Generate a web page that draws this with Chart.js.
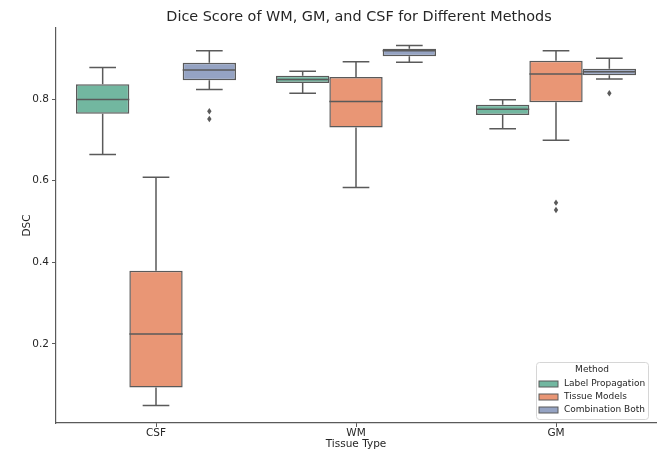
<!DOCTYPE html>
<html>
<head>
<meta charset="utf-8">
<script src="https://cdn.jsdelivr.net/npm/chart.js@4.4.1/dist/chart.umd.min.js"></script>
<style>
  html, body { margin: 0; padding: 0; background: #fff; }
  #wrap { width: 670px; height: 452px; }
</style>
</head>
<body>
<div id="wrap"><canvas id="myChart"></canvas></div>
<script>
const tissues = ["CSF", "WM", "GM"];
const methods = ["Label Propagation", "Tissue Models", "Combination Both"];
const yTicks = [0.2, 0.4, 0.6, 0.8];

// per method, per tissue (CSF, WM, GM)
const lpMin = [0.664, 0.814, 0.727];
const lpQ1 = [0.764, 0.839, 0.761];
const lpMed = [0.799, 0.848, 0.775];
const lpQ3 = [0.836, 0.857, 0.786];
const lpMax = [0.877, 0.868, 0.798];
const lpOut = [[], [], []];

const tmMin = [0.049, 0.583, 0.699];
const tmQ1 = [0.093, 0.730, 0.792];
const tmMed = [0.224, 0.794, 0.861];
const tmQ3 = [0.379, 0.854, 0.894];
const tmMax = [0.608, 0.891, 0.918];
const tmOut = [[], [], [0.546, 0.528]];

const cbMin = [0.823, 0.890, 0.849];
const cbQ1 = [0.846, 0.905, 0.858];
const cbMed = [0.871, 0.918, 0.867];
const cbQ3 = [0.889, 0.923, 0.874];
const cbMax = [0.918, 0.931, 0.900];
const cbOut = [[0.770, 0.751], [], [0.814]];

const colors = ["rgb(114,183,160)", "rgb(233,150,117)", "rgb(149,163,195)"];
const lineColor = "#5a5a5a";
const textColor = "#262626";
const font = "DejaVu Sans";

const stats = [
    { min: lpMin, q1: lpQ1, med: lpMed, q3: lpQ3, max: lpMax, out: lpOut },
    { min: tmMin, q1: tmQ1, med: tmMed, q3: tmQ3, max: tmMax, out: tmOut },
    { min: cbMin, q1: cbQ1, med: cbMed, q3: cbQ3, max: cbMax, out: cbOut }
];

const boxPlugin = {
    id: "boxParts",
    afterDatasetsDraw(chart) {
        const ctx = chart.ctx;
        const y = chart.scales.y;
        ctx.save();
        ctx.strokeStyle = lineColor;
        ctx.fillStyle = lineColor;
        ctx.lineWidth = 1.5;
        chart.data.datasets.forEach((ds, di) => {
            const s = stats[di];
            chart.getDatasetMeta(di).data.forEach((bar, i) => {
                const cx = bar.x;
                const half = bar.width / 2;
                const cap = half / 2;
                const pMin = y.getPixelForValue(s.min[i]);
                const pMax = y.getPixelForValue(s.max[i]);
                const pQ1 = y.getPixelForValue(s.q1[i]);
                const pQ3 = y.getPixelForValue(s.q3[i]);
                const pMed = y.getPixelForValue(s.med[i]);
                ctx.beginPath();
                ctx.moveTo(cx, pQ3); ctx.lineTo(cx, pMax);
                ctx.moveTo(cx - cap, pMax); ctx.lineTo(cx + cap, pMax);
                ctx.moveTo(cx, pQ1); ctx.lineTo(cx, pMin);
                ctx.moveTo(cx - cap, pMin); ctx.lineTo(cx + cap, pMin);
                ctx.moveTo(cx - half, pMed); ctx.lineTo(cx + half, pMed);
                ctx.stroke();
                s.out[i].forEach(v => {
                    const py = y.getPixelForValue(v);
                    ctx.beginPath();
                    ctx.moveTo(cx, py - 3.2);
                    ctx.lineTo(cx + 2.2, py);
                    ctx.lineTo(cx, py + 3.2);
                    ctx.lineTo(cx - 2.2, py);
                    ctx.closePath();
                    ctx.fill();
                });
            });
        });
        ctx.restore();
    },
    afterDraw(chart) {
        const ctx = chart.ctx;
        const area = chart.chartArea;
        ctx.save();
        // title
        ctx.fillStyle = textColor;
        ctx.font = "14.4px '" + font + "'";
        ctx.textAlign = "center";
        ctx.textBaseline = "middle";
        ctx.fillText("Dice Score of WM, GM, and CSF for Different Methods", (area.left + area.right) / 2 + 3, 17);

        // legend
        const lx = 536, ly = 362, lw = 112, lh = 57;
        ctx.fillStyle = "rgba(255,255,255,0.8)";
        ctx.strokeStyle = "#d6d6d6";
        ctx.lineWidth = 1;
        ctx.beginPath();
        ctx.roundRect(lx + 0.5, ly + 0.5, lw, lh, 3);
        ctx.fill();
        ctx.stroke();
        ctx.fillStyle = textColor;
        ctx.font = "9px '" + font + "'";
        ctx.fillText("Method", lx + lw / 2, ly + 8);
        ctx.textAlign = "left";
        methods.forEach((m, i) => {
            const ry = ly + 22 + i * 13;
            ctx.fillStyle = colors[i];
            ctx.fillRect(lx + 3, ry - 3, 19, 6);
            ctx.strokeStyle = lineColor;
            ctx.strokeRect(lx + 3, ry - 3, 19, 6);
            ctx.fillStyle = textColor;
            ctx.fillText(m, lx + 28, ry);
        });
        ctx.restore();
    }
};

const data = {
    labels: tissues,
    datasets: methods.map((m, di) => ({
        label: m,
        data: tissues.map((t, i) => [stats[di].q1[i], stats[di].q3[i]]),
        backgroundColor: colors[di],
        borderColor: lineColor,
        borderWidth: 1.5,
        borderSkipped: false,
        categoryPercentage: 0.8,
        barPercentage: 1.0
    }))
};

const config = {
    type: "bar",
    data: data,
    options: {
        responsive: false,
        animation: false,
        layout: { padding: { top: 28, right: 14, left: 21, bottom: 0 } },
        plugins: {
            legend: { display: false },
            title: { display: false },
            tooltip: { enabled: false }
        },
        scales: {
            x: {
                grid: { display: true, drawOnChartArea: false, offset: false, color: lineColor, tickLength: 4, lineWidth: 1 },
                border: { display: true, color: lineColor, width: 1.2 },
                ticks: { color: textColor, font: { family: font, size: 10.5 }, padding: 0 },
                title: { display: true, text: "Tissue Type", color: textColor, font: { family: font, size: 10.5 }, padding: { top: 0, bottom: 1 } },
                afterFit: s => { s.height = 29; }
            },
            y: {
                min: 0.006,
                max: 0.974,
                afterBuildTicks: s => { s.ticks = yTicks.map(v => ({ value: v })); },
                grid: { display: true, drawOnChartArea: false, color: lineColor, tickLength: 4, lineWidth: 1 },
                border: { display: true, color: lineColor, width: 1.2 },
                ticks: { color: textColor, font: { family: font, size: 10.5 }, padding: 3, callback: v => v.toFixed(1) },
                title: { display: true, text: "DSC", color: textColor, font: { family: font, size: 10.5 }, padding: 0 },
                afterFit: s => { s.width = 35; }
            }
        }
    },
    plugins: [boxPlugin]
};

const canvas = document.getElementById("myChart");
canvas.width = 670;
canvas.height = 452;
const myChart = new Chart(canvas.getContext("2d"), config);
</script>
</body>
</html>
